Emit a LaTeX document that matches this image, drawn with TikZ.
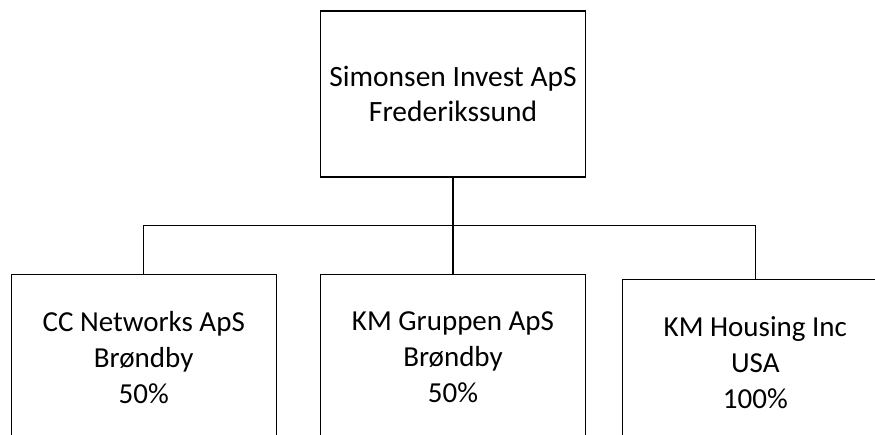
\documentclass[tikz,border=0pt]{standalone}
\usepackage{fontspec}
\setmainfont{Carlito}
\usepackage{tikz}
\usetikzlibrary{calc}
\usetikzlibrary{positioning}

\begin{document}
\begin{tikzpicture}[x=1pt,y=-1pt,-,line width=1.3pt,auto]
				\tikzstyle{firm}=[draw=black, fill=white, text=black, rectangle, align=center, minimum width=265pt, minimum height=166pt, inner sep=0pt, font=\fontsize{29}{36}\selectfont]
				\useasboundingbox (0,0) rectangle (875,434);
				\clip (0,0) rectangle (875,434);
					\node[firm, font=\fontsize{29.5}{35}\selectfont]	(top) at (453,94)         {Simonsen Invest ApS\\Frederikssund};
					\node[firm]		(kmg) [below=96pt of top] {KM Gruppen ApS\\Brøndby\\50\%};
					\node[firm]		(ccn) [left=43pt of kmg]  {CC Networks ApS\\Brøndby\\50\%};
					\node[firm]		(kmh) [right=36pt of kmg, yshift=-5pt] {KM Housing Inc\\USA\\100\%};
					\coordinate		(bus) at ($(top.south)+(0,48)$);
					\draw (top.south) -- (kmg.north);
					\draw (ccn.north) |- (bus) -| (kmh.north);
\end{tikzpicture}
\end{document}
